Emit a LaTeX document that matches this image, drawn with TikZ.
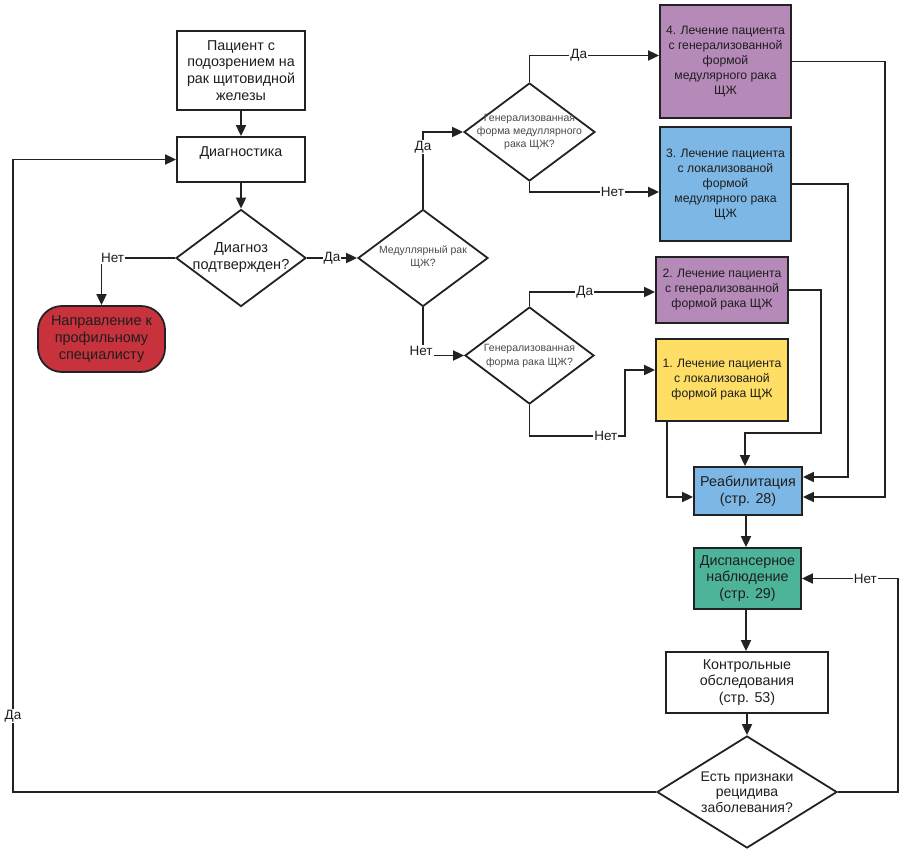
\documentclass[tikz,border=0pt]{standalone}
\usepackage{fontspec}
\setmainfont{Liberation Sans}
\usetikzlibrary{shapes.geometric,arrows.meta}
\definecolor{linec}{HTML}{222222}
\definecolor{txt}{HTML}{1E1E1E}
\definecolor{dtxtc}{HTML}{4A4A4A}
\definecolor{purp}{HTML}{B58AB8}
\definecolor{bluec}{HTML}{7DB7E6}
\definecolor{yell}{HTML}{FFDE66}
\definecolor{teal}{HTML}{4DB49A}
\definecolor{redc}{HTML}{C8323D}
\begin{document}
\begin{tikzpicture}[x=1pt,y=-1pt,
  box/.style={draw=linec,line width=1.8pt,inner sep=1pt,align=center,text=txt,
    font=\fontsize{14.3}{16.8}\selectfont},
  cbox/.style={box,font=\fontsize{12.2}{15}\selectfont},
  dia/.style={shape=diamond,draw=linec,line width=1.8pt,inner sep=0pt},
  dtxt/.style={align=center,text=dtxtc,inner sep=0pt,font=\fontsize{10.5}{13.3}\selectfont},
  btxt/.style={align=center,text=txt,inner sep=0pt,font=\fontsize{14}{15.5}\selectfont},
  ln/.style={draw=linec,line width=1.8pt},
  arr/.style={ln,-{Triangle[length=11pt,width=10pt]}},
  lbl/.style={fill=white,inner sep=1pt,text=txt,font=\fontsize{13.5}{15}\selectfont}]
\useasboundingbox (0,0) rectangle (908,854);

% boxes
\node[box,minimum width=128,minimum height=79] (p1) at (241,70.5) {Пациент с\\подозрением на\\рак щитовидной\\железы};
\node[box,minimum width=128,minimum height=45] (diag) at (241,159.5) {Диагностика\\\mbox{}};
\node[dia,minimum width=130,minimum height=97] (d1) at (241,258) {};
\node[btxt,font=\fontsize{14.5}{17}\selectfont] (d1t) at (241,258) {Диагноз\\подтвержден?};
\node[box,fill=redc,rounded corners=24pt,minimum width=127,minimum height=66,
  font=\fontsize{14.5}{17}\selectfont] (red) at (101.5,339) {Направление к\\профильному\\специалисту};
\node[dia,minimum width=130,minimum height=97] (d2) at (423,258) {};
\node[dtxt] (d2t) at (423,257) {Медуллярный рак\\ЩЖ?};
\node[dia,minimum width=131,minimum height=98] (d3) at (529.5,132) {};
\node[dtxt] (d3t) at (529.5,132) {Генерализованная\\форма медуллярного\\рака ЩЖ?};
\node[dia,minimum width=129,minimum height=97] (d4) at (529.5,355.5) {};
\node[dtxt] (d4t) at (529.5,356) {Генерализованная\\форма рака ЩЖ?};

\node[cbox,fill=purp,minimum width=131,minimum height=113] (b4) at (725.5,61.5) {4. Лечение пациента\\с генерализованной\\формой\\медулярного рака\\ЩЖ};
\node[cbox,fill=bluec,minimum width=131,minimum height=114] (b3) at (725.5,184) {3. Лечение пациента\\с локализованой\\формой\\медулярного рака\\ЩЖ};
\node[cbox,fill=purp,minimum width=132,minimum height=66] (b2) at (722,290) {2. Лечение пациента\\с генерализованной\\формой рака ЩЖ};
\node[cbox,fill=yell,minimum width=132,minimum height=82] (b1) at (722,380) {1. Лечение пациента\\с локализованой\\формой рака ЩЖ};

\node[box,fill=bluec,minimum width=108,minimum height=48] (reh) at (748,491) {Реабилитация\\(стр. 28)};
\node[box,fill=teal,minimum width=107,minimum height=61] (disp) at (747.5,578.5) {Диспансерное\\наблюдение\\(стр. 29)};
\node[box,minimum width=162,minimum height=61] (kontr) at (747,682.5) {Контрольные\\обследования\\(стр. 53)};
\node[dia,minimum width=180,minimum height=112] (d5) at (747,792) {};
\node[btxt] (d5t) at (747,792) {Есть признаки\\рецидива\\заболевания?};

% coordinates
\coordinate (c1) at (625,436);
\coordinate (c4) at (885,61.5);
\coordinate (c3) at (848,184);
\coordinate (c2) at (821,433);
\coordinate (c5) at (898,578.5);
\coordinate (c6) at (13,159.5);

% connectors
\draw[arr] (p1.south) -- (diag.north);
\draw[arr] (diag.south) -- (d1.north);
\draw[arr] (d1.west) -- node[lbl,pos=0.85]{Нет} (d1.west -| red.north) -- (red.north);
\draw[arr] (d1.east) -- node[lbl]{Да} (d2.west);
\draw[arr] (d2.north) |- node[lbl,pos=0.4]{Да} (d3.west);
\draw[arr] (d2.south) |- node[lbl,pos=0.5,xshift=-2pt,yshift=5pt]{Нет} (d4.west);
\draw[arr] (d3.north) |- node[lbl,pos=0.69]{Да} ([yshift=6pt]b4.west);
\draw[arr] (d3.south) |- node[lbl,pos=0.82]{Нет} ([yshift=-8pt]b3.west);
\draw[arr] (d4.south) |- node[lbl,pos=0.9]{Нет} (c1) |- ([yshift=10pt]b1.west);
\draw[arr] (d4.north) |- node[lbl,pos=0.72]{Да} ([yshift=-2pt]b2.west);

\draw[arr] (b4.east) -- (c4) |- ([yshift=-6pt]reh.east);
\draw[arr] (b3.east) -- (c3) |- ([yshift=14pt]reh.east);
\draw[arr] (b2.east) -| (c2) -| ([xshift=-3pt]reh.north);
\draw[arr] ([xshift=-55pt]b1.south) |- ([yshift=-6pt]reh.west);

\draw[arr] ([xshift=-2pt]reh.south) -- ([xshift=-2pt]reh.south |- disp.north);
\draw[arr] ([xshift=-1.5pt]disp.south) -- ([xshift=-1.5pt]disp.south |- kontr.north);
\draw[arr] (kontr.south) -- (d5.north);
\draw[arr] (d5.east) -| (c5) -- node[lbl,pos=0.34]{Нет} (disp.east);
\draw[arr] (d5.west) -| node[lbl,pos=0.56]{Да} (c6) -- (diag.west);
\end{tikzpicture}
\end{document}
